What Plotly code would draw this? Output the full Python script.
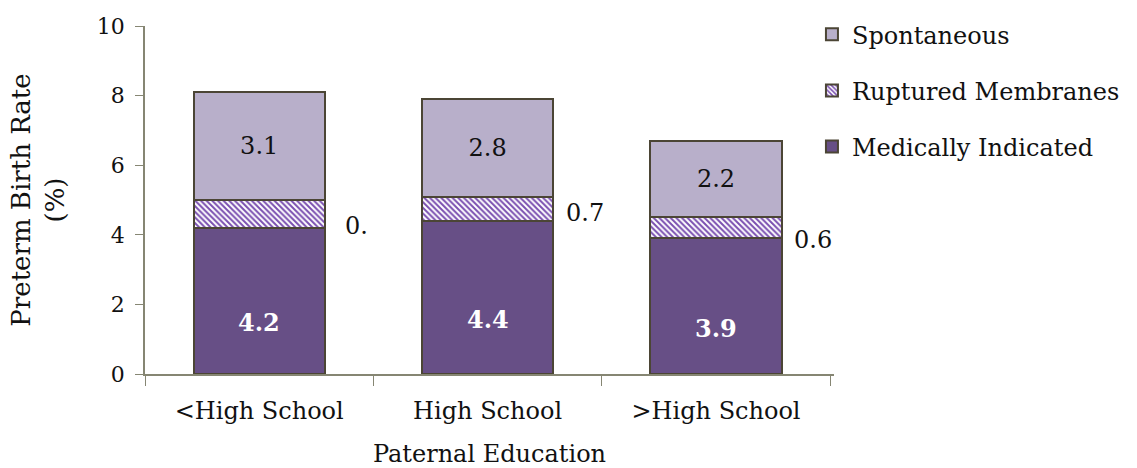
import plotly.graph_objects as go

categories = ["<High School", "High School", ">High School"]
medically_indicated = [4.2, 4.4, 3.9]
ruptured_membranes = [0.8, 0.7, 0.6]
spontaneous = [3.1, 2.8, 2.2]
rm_labels = ["0.", "0.7", "0.6"]
y_ticks = [0, 2, 4, 6, 8, 10]

FONT = "DejaVu Serif"
FS = 24
edge = dict(color="#4B4535", width=2)

fig = go.Figure()
fig.add_trace(go.Bar(
    x=categories, y=medically_indicated, name="Medically Indicated", legendgroup="mi", legendrank=3,
    marker=dict(color="#674F86", line=edge),
))
fig.add_trace(go.Bar(
    x=categories, y=ruptured_membranes, name="Ruptured Membranes", legendgroup="rm", legendrank=2,
    marker=dict(color="white", line=edge,
                pattern=dict(shape="\\", fgcolor="#7A4FB0", bgcolor="white",
                             size=4, solidity=0.5, fillmode="replace")),
))
fig.add_trace(go.Bar(
    x=categories, y=spontaneous, name="Spontaneous", legendgroup="sp", legendrank=1,
    marker=dict(color="#B8AFCA", line=edge),
    text=[f"{v:.1f}" for v in spontaneous], textposition="inside",
    insidetextanchor="middle", textfont=dict(family=FONT, size=FS, color="#111111"),
))

yshifts = [-12, -4, -12]
for c, mi, rm, lab, ys in zip(categories, medically_indicated, ruptured_membranes, rm_labels, yshifts):
    fig.add_annotation(x=c, y=mi / 2, text=f"<b>{mi:.1f}</b>", showarrow=False,
                       yshift=-22, font=dict(family=FONT, size=FS, color="white"))
    fig.add_annotation(x=c, y=mi + rm / 2, text=lab, showarrow=False,
                       xshift=97, yshift=ys, font=dict(family=FONT, size=FS, color="#111111"))

fig.update_layout(
    barmode="stack", bargap=0.426,
    width=1137, height=468,
    margin=dict(l=145, r=302, t=23, b=94),
    paper_bgcolor="white", plot_bgcolor="white",
    font=dict(family=FONT, size=FS, color="#111111"),
    showlegend=True,
    legend=dict(x=0.968, y=1.04, xanchor="left", yanchor="top",
                traceorder="grouped", font=dict(family=FONT, size=FS),
                itemwidth=30, tracegroupgap=22, bgcolor="rgba(0,0,0,0)"),
    xaxis=dict(showline=True, linecolor="#868673", linewidth=1.5, automargin=False,
               ticks="outside", tickson="boundaries", ticklen=10, tickcolor="#868673",
               tickfont=dict(family=FONT, size=FS), ticklabelstandoff=14,
               title=dict(text="Paternal Education", font=dict(family=FONT, size=FS), standoff=22)),
    yaxis=dict(range=[0, 10], tickvals=y_ticks, showline=True, linecolor="#868673", linewidth=1.5,
               automargin=False,
               ticks="outside", ticklen=8, tickcolor="#868673", showgrid=False, zeroline=False,
               tickfont=dict(family=FONT, size=22), ticklabelstandoff=6,
               title=dict(text="Preterm Birth Rate<br>(%)", font=dict(family=FONT, size=26), standoff=25)),
)

fig.write_html("out.html")
